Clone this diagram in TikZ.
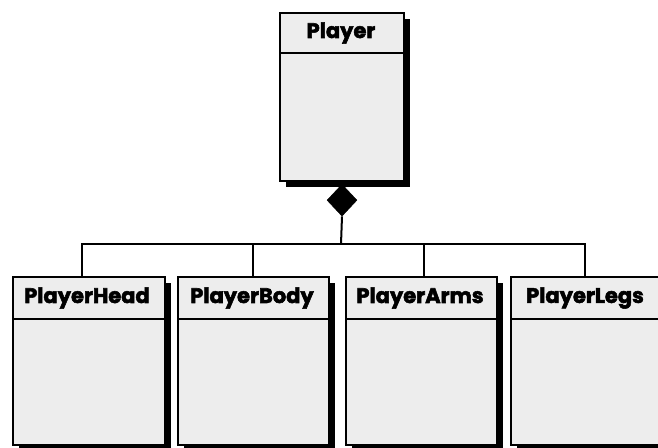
\documentclass[tikz,border=0pt]{standalone}
\usepackage{fontspec}
\setmainfont{Poppins}
\newfontfamily\ttlfont{Poppins}[BoldFeatures={FakeBold=2.5}]
\usetikzlibrary{shadows,shapes.geometric}
\begin{document}
\begin{tikzpicture}[x=1pt,y=-1pt,
  cls/.style={draw=black, line width=2pt, fill=gray!14, inner sep=0pt, anchor=north west,
    drop shadow={shadow xshift=6pt, shadow yshift=-6pt, fill=black, opacity=1}},
  ttl/.style={font=\ttlfont\fontsize{21}{21}\selectfont\bfseries, inner sep=0pt},
  conn/.style={line width=2pt},
  agg/.style={draw=black, fill=black, diamond, inner sep=0pt, minimum width=30pt, minimum height=32pt}]
\useasboundingbox (0,0) rectangle (658,447);
\clip (0,0) rectangle (658,447);
\fill[white] (0,0) rectangle (658,447);
% Player
\node[cls, minimum width=124pt, minimum height=168pt] (player) at (279,12) {};
\draw[conn] (279,53) -- (403,53);
\node[ttl] (playerT) at (341,33) {Player};
% children
\node[cls, minimum width=152pt, minimum height=168pt] (head) at (12,276) {};
\node[cls, minimum width=151pt, minimum height=168pt] (body) at (177,276) {};
\node[cls, minimum width=151pt, minimum height=168pt] (arms) at (345,276) {};
\node[cls, minimum width=160pt, minimum height=168pt] (legs) at (510,276) {};
\draw[conn] (12,319) -- (164,319);
\draw[conn] (177,319) -- (328,319);
\draw[conn] (345,319) -- (496,319);
\draw[conn] (510,319) -- (670,319);
\node[ttl] (headT) at (87,298) {PlayerHead};
\node[ttl] (bodyT) at (252,298) {PlayerBody};
\node[ttl] (armsT) at (420,298) {PlayerArms};
\node[ttl] (legsT) at (585,298) {PlayerLegs};
% aggregation diamond
\node[agg, anchor=north, yshift=-2pt] (dia) at (player.south) {};
\coordinate (bar) at (341,244);
\draw[conn] (dia.south) -- (bar);
\draw[conn] (head.north -| 82,0) |- (bar) -| (legs.north -| 585,0);
\draw[conn] (body.north -| 253,0) -- (bar -| 253,0);
\draw[conn] (arms.north -| 424,0) -- (bar -| 424,0);
\end{tikzpicture}
\end{document}
